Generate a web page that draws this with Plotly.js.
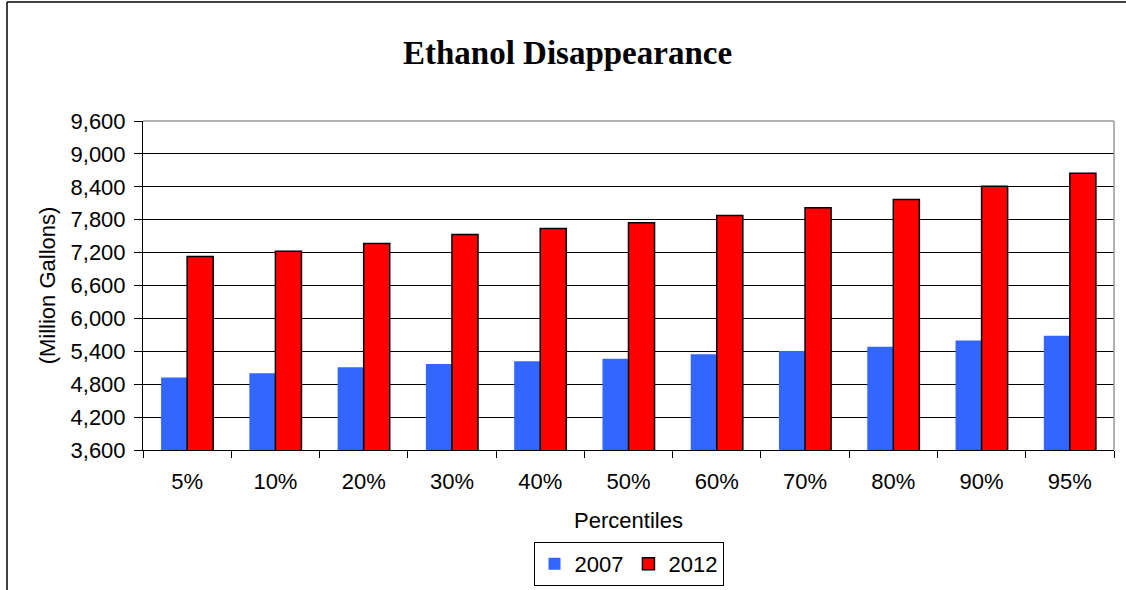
<!DOCTYPE html>
<html>
<head>
<meta charset="utf-8">
<script src="https://cdn.plot.ly/plotly-3.0.1.min.js"></script>
<style>
  html, body { margin: 0; padding: 0; background: #fff; }
  #chart { width: 1126px; height: 590px; }
</style>
</head>
<body>
<div id="chart"></div>
<script>
// ---- data ----
const percentiles = ['5%', '10%', '20%', '30%', '40%', '50%', '60%', '70%', '80%', '90%', '95%'];
const disappearance2007 = [4920, 5000, 5110, 5170, 5220, 5265, 5345, 5405, 5485, 5595, 5685];
const disappearance2012 = [7130, 7225, 7365, 7530, 7640, 7745, 7875, 8020, 8170, 8410, 8645];
const seriesNames = ['2007', '2012'];
const yTickValues = [3600, 4200, 4800, 5400, 6000, 6600, 7200, 7800, 8400, 9000, 9600];

// ---- layout geometry ----
const W = 1126, H = 590;
const M = { l: 143, r: 12, t: 121, b: 140 };
const pw = W - M.l - M.r, ph = H - M.t - M.b;
const px = x => (x - M.l) / pw;
const py = y => (H - M.b - y) / ph;

const sans = 'Arial, "Liberation Sans", sans-serif';
const FS = 22;

const traces = [
  {
    type: 'bar', name: seriesNames[0], x: percentiles, y: disappearance2007,
    marker: { color: '#3366FF', line: { width: 0 } }
  },
  {
    type: 'bar', name: seriesNames[1], x: percentiles, y: disappearance2012,
    marker: { color: '#FF0000', line: { color: '#000000', width: 1.5 } }
  }
];

const layout = {
  width: W, height: H,
  margin: M,
  paper_bgcolor: '#ffffff', plot_bgcolor: '#ffffff',
  font: { family: sans, size: FS, color: '#000' },
  barmode: 'group', bargap: 0.41, bargroupgap: 0,
  showlegend: true,
  title: {
    text: 'Ethanol Disappearance',
    font: { family: '"Times New Roman", "Liberation Serif", serif', size: 33, weight: 700, color: '#000' },
    xref: 'container', x: 567.5 / W, xanchor: 'center',
    yref: 'container', y: 1 - 52.7 / H, yanchor: 'middle'
  },
  xaxis: {
    type: 'category',
    automargin: false,
    showgrid: false, zeroline: false,
    showline: true, linecolor: '#000', linewidth: 1,
    ticks: 'outside', tickson: 'boundaries', ticklen: 7, tickcolor: '#000', tickwidth: 1,
    ticklabelstandoff: 12,
    tickfont: { family: sans, size: FS, color: '#000' },
    title: { text: 'Percentiles', font: { family: sans, size: FS, color: '#000' }, standoff: 19 }
  },
  yaxis: {
    automargin: false,
    range: [3600, 9600],
    tickvals: yTickValues,
    tickformat: ',d',
    showgrid: true, gridcolor: '#000', gridwidth: 1,
    zeroline: false,
    showline: true, linecolor: '#000', linewidth: 1,
    ticks: 'outside', ticklen: 8, tickcolor: '#000', tickwidth: 1,
    ticklabelstandoff: 4,
    tickfont: { family: sans, size: FS, color: '#000' },
    title: { text: '(Million Gallons)', font: { family: sans, size: FS, color: '#000' }, standoff: 8 }
  },
  legend: {
    orientation: 'h',
    xref: 'container', x: 628.5 / W, xanchor: 'center',
    yref: 'container', y: (H - 586) / H, yanchor: 'bottom',
    bordercolor: '#000', borderwidth: 1,
    bgcolor: '#fff',
    font: { family: sans, size: FS, color: '#000' },
    itemclick: false, itemdoubleclick: false,
    tracegroupgap: 0
  },
  shapes: [
    // gray plot-area border on top and right
    { type: 'line', xref: 'paper', yref: 'paper', x0: 0, x1: 1, y0: 1, y1: 1,
      line: { color: '#9a9a9a', width: 1.5 }, layer: 'above' },
    { type: 'line', xref: 'paper', yref: 'paper', x0: 1, x1: 1, y0: 0, y1: 1,
      line: { color: '#9a9a9a', width: 1.5 }, layer: 'above' },
    // outer chart frame (top and left edges)
    { type: 'line', xref: 'paper', yref: 'paper', x0: px(7), x1: px(W + 5), y0: py(2), y1: py(2),
      line: { color: '#000', width: 1.5 }, layer: 'above' },
    { type: 'line', xref: 'paper', yref: 'paper', x0: px(7), x1: px(7), y0: py(2), y1: py(H + 5),
      line: { color: '#000', width: 1.5 }, layer: 'above' }
  ]
};

Plotly.newPlot('chart', traces, layout, { displayModeBar: false, staticPlot: true });
</script>
</body>
</html>
